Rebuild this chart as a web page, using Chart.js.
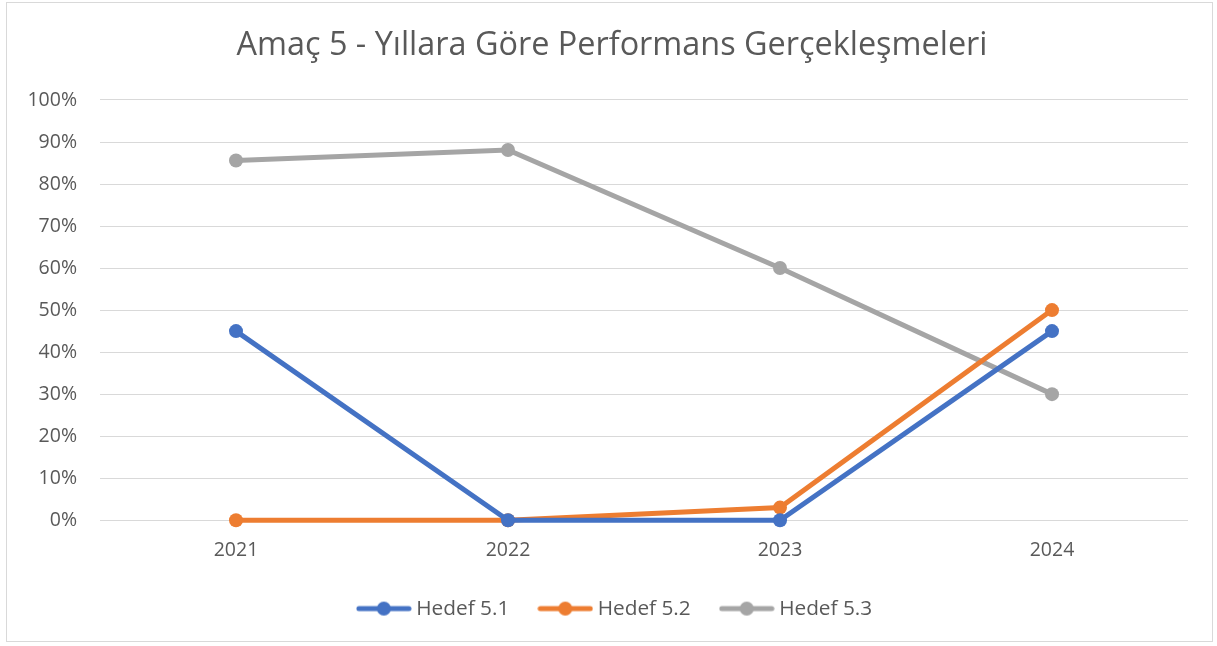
<!DOCTYPE html>
<html>
<head>
<meta charset="utf-8">
<script src="https://cdn.jsdelivr.net/npm/chart.js@4.4.0/dist/chart.umd.min.js"></script>
<style>
  html, body { margin: 0; padding: 0; background: #ffffff; }
  canvas { display: block; }
</style>
</head>
<body>
<canvas id="c" width="1217" height="646"></canvas>
<script>
const chartTitle = "Amaç 5 - Yıllara Göre Performans Gerçekleşmeleri";
const categories = ["2021", "2022", "2023", "2024"];
const seriesNames = ["Hedef 5.1", "Hedef 5.2", "Hedef 5.3"];
const hedef51 = [0.45, 0.00, 0.00, 0.45];
const hedef52 = [0.00, 0.00, 0.03, 0.50];
const hedef53 = [0.856, 0.881, 0.60, 0.30];
const seriesColors = ["#4472C4", "#ED7D31", "#A5A5A5"];

const FONT = "'Open Sans', 'Noto Sans', sans-serif";
const TEXT = "#595959";

function legendIcon(color) {
  const cv = document.createElement('canvas');
  cv.width = 56; cv.height = 16;
  const g = cv.getContext('2d');
  g.strokeStyle = color; g.lineWidth = 5;
  g.lineCap = 'round';
  g.beginPath(); g.moveTo(3, 8); g.lineTo(53, 8); g.stroke();
  g.fillStyle = color;
  g.beginPath(); g.arc(28, 8, 7, 0, Math.PI * 2); g.fill();
  return cv;
}

const frame = {
  id: 'frame',
  afterLayout(chart) {
    // center the title and legend as in the reference
    if (chart.titleBlock) { chart.titleBlock.left += 15; chart.titleBlock.right += 15; }
    if (chart.legend) { chart.legend.left += 20; chart.legend.right += 20; }
  },
  beforeDraw(chart) {
    const ctx = chart.ctx;
    ctx.save();
    ctx.fillStyle = '#ffffff';
    ctx.fillRect(0, 0, chart.width, chart.height);
    ctx.strokeStyle = '#d9d9d9';
    ctx.lineWidth = 1;
    ctx.strokeRect(6.5, 2.5, 1206, 639);
    ctx.restore();
  }
};

const seriesData = [hedef51, hedef52, hedef53];

new Chart(document.getElementById('c'), {
  type: 'line',
  data: {
    labels: categories,
    datasets: seriesNames.map((n, i) => ({
      label: n,
      data: seriesData[i],
      borderColor: seriesColors[i],
      backgroundColor: seriesColors[i],
      borderWidth: 5,
      pointRadius: 7,
      pointBorderWidth: 0,
      pointBackgroundColor: seriesColors[i],
      tension: 0,
      fill: false,
      clip: false
    }))
  },
  options: {
    responsive: false,
    animation: false,
    layout: { padding: { left: 6, right: 29, top: 0, bottom: 17 } },
    plugins: {
      title: {
        display: true,
        text: chartTitle,
        color: TEXT,
        font: { family: FONT, size: 32.4, weight: 'normal' },
        padding: { top: 26.5, bottom: 34.6 }
      },
      legend: {
        position: 'bottom',
        labels: {
          usePointStyle: true,
          pointStyleWidth: 44,
          padding: 34,
          color: TEXT,
          font: { family: FONT, size: 20.8 },
          generateLabels(chart) {
            return chart.data.datasets.map((d, i) => ({
              text: d.label,
              fillStyle: d.borderColor,
              strokeStyle: d.borderColor,
              lineWidth: 0,
              pointStyle: legendIcon(d.borderColor),
              hidden: false,
              datasetIndex: i,
              fontColor: TEXT
            }));
          }
        }
      },
      tooltip: { enabled: false }
    },
    scales: {
      x: {
        offset: true,
        grid: { display: false, drawTicks: false },
        border: { display: false },
        ticks: { color: TEXT, font: { family: FONT, size: 19.5 }, padding: 19 },
        afterFit(s) { s.height = 44; }
      },
      y: {
        min: 0, max: 1,
        grid: { color: '#d9d9d9', lineWidth: 1, drawTicks: false },
        border: { display: false },
        ticks: {
          stepSize: 0.1,
          color: TEXT,
          font: { family: FONT, size: 19.5 },
          padding: 23,
          callback: v => Math.round(v * 100) + '%'
        },
        afterFit(s) { s.width = 94; }
      }
    }
  },
  plugins: [frame]
});
</script>
</body>
</html>
